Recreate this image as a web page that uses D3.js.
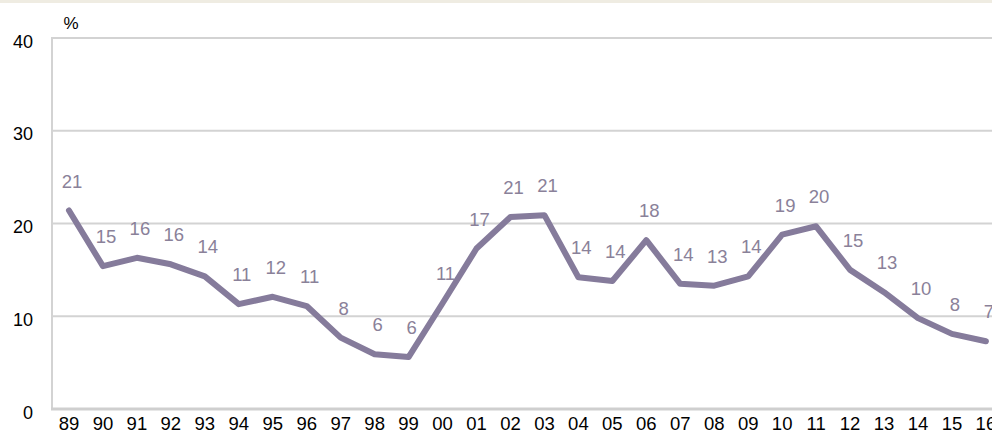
<!DOCTYPE html>
<html>
<head>
<meta charset="utf-8">
<script src="https://cdn.jsdelivr.net/npm/d3@7"></script>
<style>
  html, body { margin: 0; padding: 0; background: #ffffff; }
  svg { display: block; font-family: "Liberation Sans", Arial, sans-serif; }
</style>
</head>
<body>
<svg id="chart" width="992" height="434"></svg>
<script>
const years = ["89","90","91","92","93","94","95","96","97","98","99","00","01","02","03","04","05","06","07","08","09","10","11","12","13","14","15","16"];
const values = [21.4,15.4,16.3,15.6,14.3,11.3,12.1,11.1,7.7,5.9,5.6,11.4,17.3,20.7,20.9,14.2,13.8,18.2,13.5,13.3,14.3,18.8,19.7,15.0,12.6,9.8,8.1,7.3];
const labels = ["21","15","16","16","14","11","12","11","8","6","6","11","17","21","21","14","14","18","14","13","14","19","20","15","13","10","8","7"];
const yTicks = [0,10,20,30,40];
const unitLabel = "%";

(function () {
const svg = d3.select("#chart");
const mLeft = 52, mTop = 38, mBottom = 409;
const step = 33.96;
const mRight = mLeft + years.length * step;
const font = "Liberation Sans, Arial, sans-serif";

// top beige band
svg.append("rect").attr("x",0).attr("y",0).attr("width",992).attr("height",3).attr("fill","#efece2");

const x = d3.scaleBand().domain(years).range([mLeft, mRight]).paddingInner(0).paddingOuter(0);
const y = d3.scaleLinear().domain([0,40]).range([mBottom, mTop]);

// gridlines
svg.append("g").selectAll("line").data(yTicks.filter(t => t > 0)).join("line")
  .attr("x1", mLeft).attr("x2", mRight)
  .attr("y1", d => y(d)).attr("y2", d => y(d))
  .attr("stroke", "#d3d3d3").attr("stroke-width", 2);

// left axis line
svg.append("line").attr("x1", mLeft).attr("x2", mLeft).attr("y1", y(40)-1).attr("y2", y(0))
  .attr("stroke", "#d3d3d3").attr("stroke-width", 2);
// bottom axis line
svg.append("line").attr("x1", mLeft-1).attr("x2", mRight).attr("y1", y(0)).attr("y2", y(0))
  .attr("stroke", "#cfcfcf").attr("stroke-width", 3);

// y axis labels
const yAxis = d3.axisLeft(y).tickValues(yTicks).tickSize(0).tickPadding(0).tickFormat(d3.format("d"));
const gy = svg.append("g").attr("transform", `translate(${mLeft-19},0)`).call(yAxis);
gy.select(".domain").remove();
gy.selectAll("text").attr("font-size", 18).attr("fill", "#000").attr("font-family", font)
  .attr("y", 9).attr("dy", "0");

// x axis labels
const xAxis = d3.axisBottom(x).tickSize(0).tickPadding(0);
const gx = svg.append("g").attr("transform", `translate(0,${mBottom})`).call(xAxis);
gx.select(".domain").remove();
gx.selectAll("text").attr("font-size", 18.5).attr("fill", "#000").attr("font-family", font)
  .attr("y", 21).attr("dy", "0");

// unit label
svg.append("text").attr("x", 71).attr("y", 29).attr("text-anchor","middle")
  .attr("font-size", 17).attr("fill", "#000").attr("font-family", font).text(unitLabel);

// line
const line = d3.line().x((d,i) => x(years[i]) + x.bandwidth()/2).y(d => y(d));
svg.append("path").datum(values).attr("d", line)
  .attr("fill","none").attr("stroke","#857b9b").attr("stroke-width",6)
  .attr("stroke-linejoin","round").attr("stroke-linecap","round");

// data labels
svg.append("g").selectAll("text").data(values).join("text")
  .attr("x", (d,i) => x(years[i]) + x.bandwidth()/2 + 3)
  .attr("y", d => y(d) - 23)
  .attr("text-anchor","middle")
  .attr("font-size", 18.5)
  .attr("font-family", font)
  .attr("fill", "#8a8199")
  .text((d,i) => labels[i]);
})();
</script>
</body>
</html>
